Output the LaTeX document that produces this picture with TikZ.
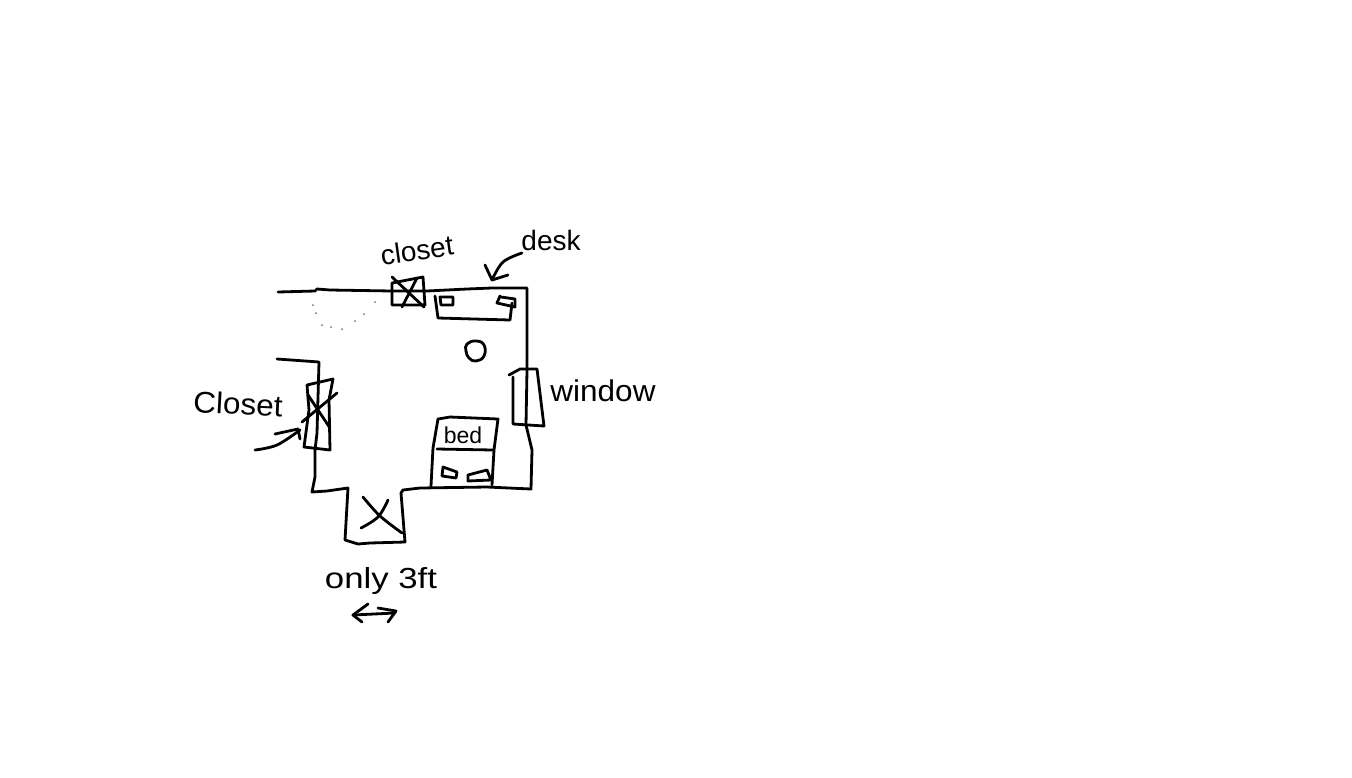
\documentclass[tikz,border=0pt]{standalone}
\usepackage{fontspec}
\setmainfont{Liberation Sans}
\tikzset{
  ink/.style={draw=black,line width=2.8pt,line cap=round,line join=round},
  label/.style={inner sep=0pt,text=black,anchor=center},
  dot/.style={fill=black!55,draw=none},
}
\begin{document}
\begin{tikzpicture}[x=1pt,y=-1pt]
\useasboundingbox (0,0) rectangle (1352,777);
% walls
\draw[ink] (278,292) -- (315,291) -- (317,289) -- (330,290) -- (392,291) -- (427,291) -- (467,289) -- (492,288) -- (527,288) -- (527,370) -- (526,425) -- (532,450) -- (531,489) -- (487,487) -- (420,488) -- (403,490) -- (401,493) -- (405,542) -- (370,543) -- (358,544) -- (345,540) -- (348,488) -- (327,491) -- (312,492) -- (315,477) -- (315,450);
\draw[ink] (277,359) -- (319,362) -- (317,433) -- (315,450);
% door swing
\foreach \p in {(313,305),(316,313),(322,325),(331,327),(342,329),(355,321),(364,314),(375,302)}
  \fill[dot] \p circle (1pt);
% top closet
\draw[ink] (392,283) -- (423,277) -- (425,305) -- (392,305) -- cycle;
\draw[ink] (392,277) -- (424,307);
\draw[ink] (417,278) -- (402,307);
% desk
\draw[ink] (435,296) -- (438,318) -- (510,320) -- (512,303);
\draw[ink] (440,297) -- (453,297) -- (453,305) -- (441,305) -- cycle;
\draw[ink] (500,296) -- (497,303) -- (515,307) -- (515,299) -- (501,297);
% chair
\draw[ink] plot[smooth cycle,tension=.8] coordinates {(467,344) (476,341) (484,345) (484,356) (476,361) (469,358) (466,351)};
% left closet
\draw[ink] (307,385) -- (333,379) -- (329,400) -- (330,450) -- (304,447) -- (309,410) -- cycle;
\draw[ink] (308,395) -- (330,428);
\draw[ink] (337,393) -- (302,422);
% window
\draw[ink] (509,375) -- (520,369) -- (537,369) -- (544,426) -- (513,424) -- (513,377);
% bed
\draw[ink] (431,486) -- (433,448) -- (438,419) -- (450,417) -- (498,419) -- (494,450) -- (492,485);
\draw[ink] (437,449) -- (493,450);
\draw[ink] (443,467) -- (457,472) -- (456,478) -- (442,476) -- cycle;
\draw[ink] (468,475) -- (487,470) -- (491,480) -- (468,481) -- cycle;
% bottom X
\draw[ink] plot[smooth,tension=.6] coordinates {(363,497) (380,516) (402,533)};
\draw[ink] plot[smooth,tension=.6] coordinates {(388,500) (378,517) (361,528)};
% labels
\node[label,rotate=8] (closetA) at (417,250) {\fontsize{28}{28}\selectfont closet};
\node[label] (deskL) at (551,240) {\fontsize{28}{28}\selectfont desk};
\node[label,rotate=-3,xscale=1.05] (closetB) at (238,404) {\fontsize{30}{30}\selectfont Closet};
\node[label,xscale=1.05] (windowL) at (603,391) {\fontsize{30}{30}\selectfont window};
\node[label] (bedL) at (463,435) {\fontsize{23}{23}\selectfont bed};
\node[label,xscale=1.2] (onlyL) at (381,581) {\fontsize{29}{29}\selectfont only 3ft};
% arrows
\draw[ink] plot[smooth,tension=.6] coordinates {(522,253) (503,262) (492,280)};
\draw[ink] (485,265) -- (492,280) -- (508,275);
\draw[ink] plot[smooth,tension=.6] coordinates {(255,450) (277,445) (300,430)};
\draw[ink] (275,434) -- (298,429) -- (300,439);
\draw[ink] (353,615) -- (395,613);
\draw[ink] (368,604) -- (353,615) -- (362,622);
\draw[ink] (378,608) -- (396,611) -- (388,622);
\end{tikzpicture}
\end{document}
